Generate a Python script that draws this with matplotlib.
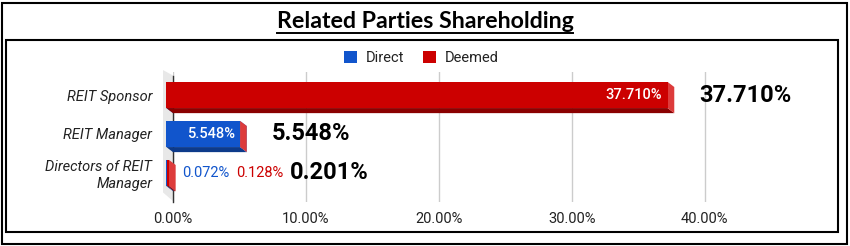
import matplotlib.pyplot as plt
from matplotlib.patches import Polygon, Patch, Rectangle
from matplotlib.lines import Line2D

categories = ["REIT Sponsor", "REIT Manager", "Directors of REIT\nManager"]
direct = [0.0, 5.548, 0.072]
deemed = [37.710, 0.0, 0.128]
direct_labels = ["", "5.548%", "0.072%"]
deemed_labels = ["37.710%", "", "0.128%"]
total_labels = ["37.710%", "5.548%", "0.201%"]
xticks = [0, 10, 20, 30, 40]
xtick_labels = ["0.00%", "10.00%", "20.00%", "30.00%", "40.00%"]

W, H = 850, 246
fig = plt.figure(figsize=(W / 100, H / 100), dpi=100)
fig.patch.set_facecolor("white")

# plot area in pixels (0% at x=173, 13.3 px per %)
px_left, px_right, px_top, px_bot = 173, 718, 72, 202
ax = fig.add_axes([px_left / W, 1 - px_bot / H, (px_right - px_left) / W, (px_bot - px_top) / H])
ax.set_xlim(0, 41)
ax.set_ylim(2.744, -0.59)
ax.set_facecolor("none")
for s in ax.spines.values():
    s.set_visible(False)

ax.set_xticks(xticks)
ax.set_xticklabels(xtick_labels, fontsize=10.5, family="Roboto", color="#222222")
ax.set_yticks(range(len(categories)))
ax.set_yticklabels(categories, fontsize=10.5, family="Roboto", style="italic", color="#222222")
ax.tick_params(axis="x", length=0, pad=7)
ax.tick_params(axis="y", length=0, pad=15)
ax.grid(axis="x", color="#cccccc", linewidth=1)
ax.set_axisbelow(True)

# 3d look: depth offset
dx, dy = 0.5, 0.13
half = 0.335

# gray side wall near 0
ax.add_patch(Polygon([(-0.75, -0.64), (0, -0.5), (0, 2.72), (-0.75, 2.5)],
                     closed=True, facecolor="#e8e8e8", edgecolor="none", clip_on=False, zorder=0.5))
ax.plot([0, 0], [-0.5, 2.744], color="#333333", lw=1, zorder=1, clip_on=False)

styles = {
    "direct": ("#1155cc", "#0d3a8a", "#3c78d8"),
    "deemed": ("#cc0000", "#8a0000", "#dd3b3b"),
}


def bar3d(y, x0, x1, front, bottom, side):
    f0, f1 = x0 - dx, x1 - dx
    yt, yb = y - half, y + half
    ax.add_patch(Polygon([(f0, yb), (f1, yb), (x1, yb + dy), (x0, yb + dy)],
                         facecolor=bottom, edgecolor="none", clip_on=False, zorder=3))
    ax.add_patch(Polygon([(f1, yt), (x1, yt + dy), (x1, yb + dy), (f1, yb)],
                         facecolor=side, edgecolor="none", clip_on=False, zorder=3))
    ax.add_patch(Polygon([(f0, yt), (f1, yt), (f1, yb), (f0, yb)],
                         facecolor=front, edgecolor="none", clip_on=False, zorder=3))


for i in range(len(categories)):
    bar3d(i, 0, direct[i], *styles["direct"])
    bar3d(i, direct[i], direct[i] + deemed[i], *styles["deemed"])

# inside labels
ax.annotate(deemed_labels[0], (deemed[0] - dx, 0), xytext=(-6, 0), textcoords="offset pixels",
            ha="right", va="center", color="white", fontsize=10.5, fontweight="medium",
            family="Roboto", zorder=5)
ax.annotate(direct_labels[1], (direct[1] - dx, 1), xytext=(-5, 0), textcoords="offset pixels",
            ha="right", va="center", color="white", fontsize=10.5, fontweight="medium",
            family="Roboto", zorder=5)
tot2 = direct[2] + deemed[2]
ax.annotate(direct_labels[2], (tot2, 2), xytext=(6, 0), textcoords="offset pixels",
            ha="left", va="center", color="#1155cc", fontsize=10.5, family="Roboto", zorder=5)
ax.annotate(deemed_labels[2], (tot2, 2), xytext=(60, 0), textcoords="offset pixels",
            ha="left", va="center", color="#cc0000", fontsize=10.5, family="Roboto", zorder=5)

# totals
tot_off = [25, 25, 114]
for i in range(len(categories)):
    ax.annotate(total_labels[i], (direct[i] + deemed[i], i), xytext=(tot_off[i], 0),
                textcoords="offset pixels", ha="left", va="center", color="black",
                fontsize=17, fontweight="bold", family="Roboto", zorder=5)

# legend
handles = [Patch(facecolor=styles["direct"][0]), Patch(facecolor=styles["deemed"][0])]
fig.legend(handles, ["Direct", "Deemed"], ncol=2, loc="center", bbox_to_anchor=(421 / W, 1 - 58 / H),
           frameon=False, prop={"family": "Roboto", "size": 10.5}, handlelength=0.9, handleheight=0.9,
           columnspacing=1.3, handletextpad=0.6, labelcolor="#222222")

# borders
fig.add_artist(Rectangle((2 / W, 1 - 244 / H), 845 / W, 241 / H, transform=fig.transFigure,
                         fill=False, edgecolor="black", lw=1.5))
fig.add_artist(Rectangle((6 / W, 1 - 232 / H), 832 / W, 192 / H, transform=fig.transFigure,
                         fill=False, edgecolor="black", lw=1.5))

# title with underline
title = fig.text(0.5, 1 - 21 / H, "Related Parties Shareholding", ha="center", va="center",
                 fontsize=16.7, fontweight="bold", family="Lato")
fig.canvas.draw()
bb = title.get_window_extent()
uy = 1 - 33 / H
fig.add_artist(Line2D([bb.x0 / W, bb.x1 / W], [uy, uy], transform=fig.transFigure, color="black", lw=1.4))

fig.savefig("out.png", dpi=100)
